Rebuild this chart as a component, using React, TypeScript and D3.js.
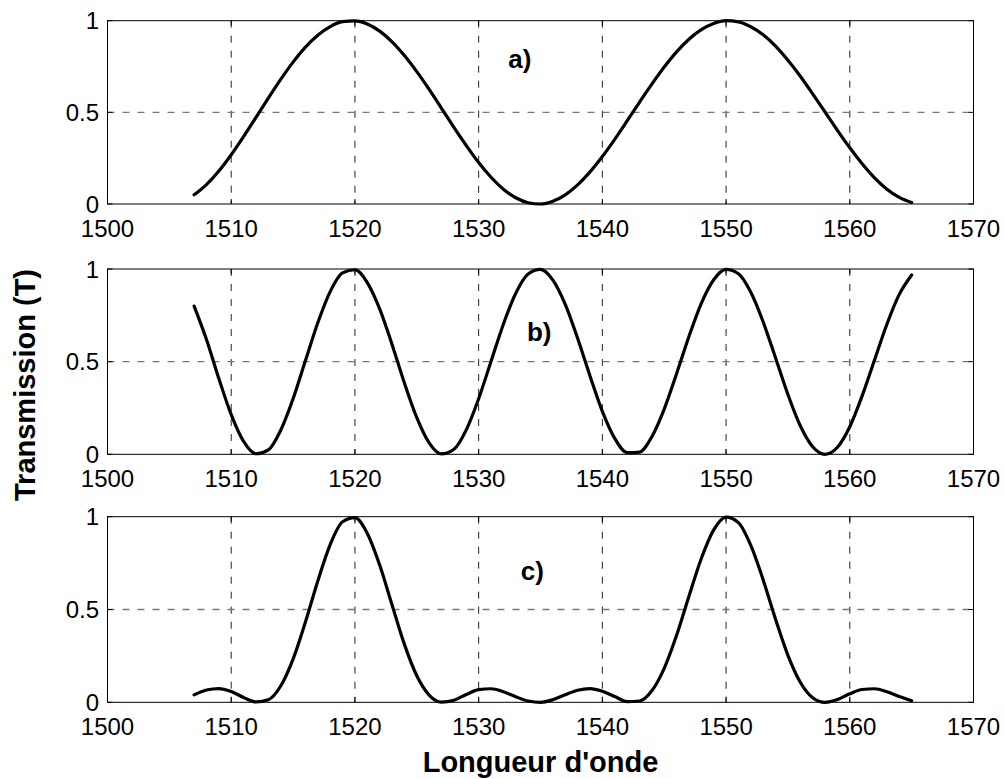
import { useEffect, useRef } from "react";
import * as d3 from "d3";

// Transmission vs longueur d'onde, 3 sous-figures façon MATLAB

const WIDTH = 1005;
const HEIGHT = 779;
const FONT = "'Liberation Sans', Arial, Helvetica, sans-serif";

const X_LEFT = 107.5;
const X_RIGHT = 973.5;
const PANEL_BOXES = [
  { top: 20.7, bottom: 204 },
  { top: 269, bottom: 454.3 },
  { top: 516.7, bottom: 702.3 },
];

const X_TICKS = [1500, 1510, 1520, 1530, 1540, 1550, 1560, 1570];
const Y_TICKS = [0, 0.5, 1];
const Y_TICK_LABELS = ["0", "0.5", "1"];

const PANEL_LABELS = ["a)", "b)", "c)"];
const LABEL_X = [1532.4, 1533.9, 1533.4];
const LABEL_Y = [0.74, 0.61, 0.66];

const WAVELENGTH = [
  1507, 1508, 1509, 1510, 1511, 1512, 1513, 1514, 1515, 1516, 1517, 1518, 1519, 1520,
  1521, 1522, 1523, 1524, 1525, 1526, 1527, 1528, 1529, 1530, 1531, 1532, 1533, 1534,
  1535, 1536, 1537, 1538, 1539, 1540, 1541, 1542, 1543, 1544, 1545, 1546, 1547, 1548,
  1549, 1550, 1551, 1552, 1553, 1554, 1555, 1556, 1557, 1558, 1559, 1560, 1561, 1562,
  1563, 1564, 1565,
];

const T_A = [
  0.050, 0.106, 0.180, 0.269, 0.368, 0.472, 0.578, 0.680, 0.774, 0.856, 0.921, 0.968, 0.995, 0.999,
  0.982, 0.943, 0.885, 0.810, 0.722, 0.625, 0.522, 0.418, 0.319, 0.226, 0.146, 0.081, 0.034, 0.007,
  0.000, 0.015, 0.050, 0.104, 0.175, 0.259, 0.353, 0.453, 0.555, 0.654, 0.747, 0.830, 0.899, 0.951,
  0.985, 1.000, 0.994, 0.967, 0.923, 0.861, 0.784, 0.697, 0.601, 0.502, 0.402, 0.307, 0.220, 0.143,
  0.081, 0.036, 0.008,
];

const T_B = [
  0.800, 0.620, 0.409, 0.214, 0.070, 0.003, 0.024, 0.130, 0.300, 0.506, 0.710, 0.878, 0.979, 0.996,
  0.927, 0.785, 0.593, 0.385, 0.198, 0.062, 0.002, 0.027, 0.132, 0.300, 0.501, 0.702, 0.869, 0.973,
  0.998, 0.940, 0.809, 0.626, 0.423, 0.232, 0.086, 0.009, 0.012, 0.095, 0.244, 0.435, 0.636, 0.815,
  0.942, 0.998, 0.974, 0.874, 0.714, 0.520, 0.323, 0.154, 0.041, 0.000, 0.038, 0.149, 0.315, 0.509,
  0.702, 0.863, 0.968,
];

const T_C = [
  0.040, 0.066, 0.074, 0.058, 0.026, 0.002, 0.014, 0.088, 0.233, 0.433, 0.654, 0.850, 0.973, 0.995,
  0.910, 0.740, 0.525, 0.312, 0.143, 0.039, 0.001, 0.011, 0.042, 0.068, 0.073, 0.057, 0.030, 0.007,
  0.000, 0.014, 0.041, 0.065, 0.074, 0.060, 0.031, 0.004, 0.007, 0.062, 0.183, 0.361, 0.572, 0.775,
  0.929, 0.998, 0.968, 0.845, 0.659, 0.447, 0.253, 0.108, 0.025, 0.000, 0.015, 0.046, 0.069, 0.073,
  0.057, 0.031, 0.008,
];

const SERIES = [T_A, T_B, T_C];

export default function App() {
  const svgRef = useRef<SVGSVGElement>(null);

  useEffect(() => {
    if (!svgRef.current) return;
    const svg = d3.select(svgRef.current);
    svg.selectAll("*").remove();

    const x = d3.scaleLinear().domain([1500, 1570]).range([X_LEFT, X_RIGHT]);

    SERIES.forEach((vals, i) => {
      const box = PANEL_BOXES[i];
      const y = d3.scaleLinear().domain([0, 1]).range([box.bottom, box.top]);
      const g = svg.append("g");

      // grille
      X_TICKS.slice(1, -1).forEach((t) => {
        g.append("line")
          .attr("x1", x(t)).attr("x2", x(t))
          .attr("y1", box.top).attr("y2", box.bottom)
          .attr("stroke", "#222").attr("stroke-width", 1)
          .attr("stroke-dasharray", "7,8");
      });
      g.append("line")
        .attr("x1", X_LEFT).attr("x2", X_RIGHT)
        .attr("y1", y(0.5)).attr("y2", y(0.5))
        .attr("stroke", "#777").attr("stroke-width", 1.3)
        .attr("stroke-dasharray", "7,8");

      // petites graduations internes
      X_TICKS.forEach((t) => {
        g.append("line").attr("x1", x(t)).attr("x2", x(t))
          .attr("y1", box.bottom).attr("y2", box.bottom - 5).attr("stroke", "#000");
        g.append("line").attr("x1", x(t)).attr("x2", x(t))
          .attr("y1", box.top).attr("y2", box.top + 5).attr("stroke", "#000");
      });
      Y_TICKS.forEach((t) => {
        g.append("line").attr("x1", X_LEFT).attr("x2", X_LEFT + 5)
          .attr("y1", y(t)).attr("y2", y(t)).attr("stroke", "#000");
        g.append("line").attr("x1", X_RIGHT).attr("x2", X_RIGHT - 5)
          .attr("y1", y(t)).attr("y2", y(t)).attr("stroke", "#000");
      });

      // cadre
      g.append("rect")
        .attr("x", X_LEFT).attr("y", box.top)
        .attr("width", X_RIGHT - X_LEFT).attr("height", box.bottom - box.top)
        .attr("fill", "none").attr("stroke", "#000").attr("stroke-width", 1);

      // étiquettes des axes
      X_TICKS.forEach((t) => {
        g.append("text")
          .attr("x", x(t)).attr("y", box.bottom + 32.7)
          .attr("text-anchor", "middle")
          .attr("font-family", FONT).attr("font-size", "24px").attr("fill", "#000")
          .text(String(t));
      });
      Y_TICKS.forEach((t, k) => {
        g.append("text")
          .attr("x", X_LEFT - 8.5).attr("y", y(t) + 8.6)
          .attr("text-anchor", "end")
          .attr("font-family", FONT).attr("font-size", "24px").attr("fill", "#000")
          .text(Y_TICK_LABELS[k]);
      });

      // courbe
      const line = d3.line<number>()
        .x((_, k) => x(WAVELENGTH[k]))
        .y((v) => y(v))
        .curve(d3.curveMonotoneX);
      g.append("path")
        .attr("d", line(vals) as string)
        .attr("fill", "none").attr("stroke", "#000")
        .attr("stroke-width", 3.2)
        .attr("stroke-linejoin", "round").attr("stroke-linecap", "round");

      g.append("text")
        .attr("x", x(LABEL_X[i])).attr("y", y(LABEL_Y[i]))
        .attr("font-family", FONT).attr("font-size", "26px").attr("font-weight", "700")
        .text(PANEL_LABELS[i]);
    });

    svg.append("text")
      .attr("x", (X_LEFT + X_RIGHT) / 2).attr("y", 771.7)
      .attr("text-anchor", "middle")
      .attr("font-family", FONT).attr("font-size", "29px").attr("font-weight", "700")
      .text("Longueur d'onde");

    svg.append("text")
      .attr("transform", "translate(35,385) rotate(-90)")
      .attr("text-anchor", "middle")
      .attr("font-family", FONT).attr("font-size", "29px").attr("font-weight", "700")
      .text("Transmission (T)");
  }, []);

  return (
    <div style={{ position: "absolute", left: 0, top: 0 }}>
      <svg
        ref={svgRef}
        width={WIDTH}
        height={HEIGHT}
        viewBox={`0 0 ${WIDTH} ${HEIGHT}`}
        style={{ display: "block", background: "#fff" }}
      />
    </div>
  );
}
